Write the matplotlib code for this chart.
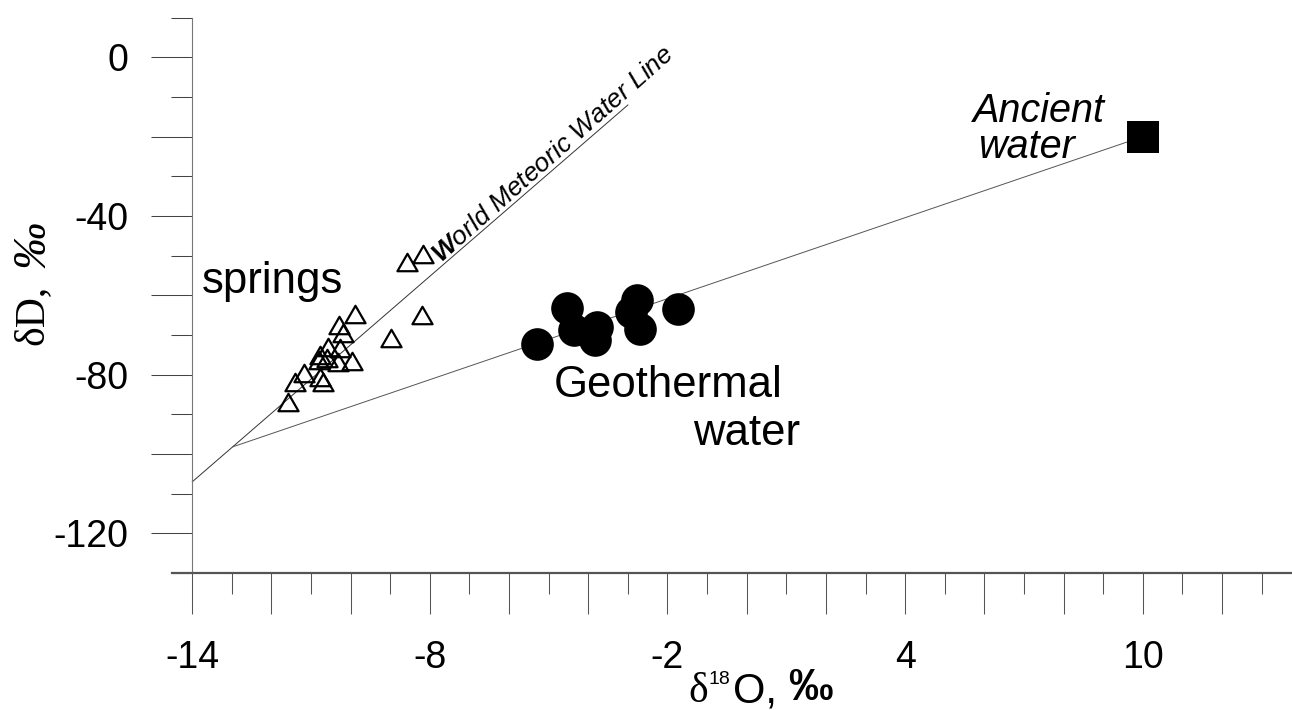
import matplotlib
matplotlib.use('Agg')
import matplotlib.pyplot as plt
import numpy as np
from matplotlib.path import Path
from matplotlib.ticker import FixedLocator, FuncFormatter

# ---------------- data ----------------
spring_d18o = [-8.59, -8.18, -9.89, -8.19, -8.99, -10.29, -10.19, -10.27, -10.57, -10.78,
               -9.97, -10.31, -10.61, -10.79, -11.18, -11.41, -10.78, -10.69, -11.58]
spring_dD = [-51.6, -49.5, -64.6, -65.0, -70.7, -67.5, -69.6, -73.2, -73.0, -75.1,
             -76.5, -76.8, -75.9, -76.4, -79.6, -81.8, -80.6, -81.8, -86.9]
geo_d18o = [-5.30, -4.53, -4.36, -3.79, -3.83, -2.78, -2.93, -2.69, -1.74]
geo_dD = [-72.3, -63.3, -68.8, -68.0, -71.3, -61.2, -64.2, -68.4, -63.5]
ancient_d18o = [10.0]
ancient_dD = [-20.0]
wmwl_d18o = [-14.0, -3.0]
wmwl_dD = [-107.0, -12.0]
mix_d18o = [-12.98, 10.0]
mix_dD = [-98.2, -20.0]
x_tick_labels = [-14, -8, -2, 4, 10]
y_tick_labels = [-120, -80, -40, 0]

# ---------------- style ----------------
plt.rcParams['font.family'] = ['Liberation Sans', 'DejaVu Sans']
plt.rcParams['mathtext.fontset'] = 'custom'
plt.rcParams['mathtext.rm'] = 'Liberation Sans'
plt.rcParams['mathtext.it'] = 'Liberation Sans:italic'
plt.rcParams['mathtext.bf'] = 'Liberation Sans:italic:bold'
plt.rcParams['mathtext.sf'] = 'Liberation Sans'

W, H = 1292, 710
fig = plt.figure(figsize=(W / 100, H / 100), dpi=100)
ax = fig.add_axes([171.7 / W, 1 - 573 / H, (W - 171.7) / W, (573 - 17.7) / H])
ax.set_xlim(-14.52, 13.77)
ax.set_ylim(-130, 10)

for s in ('top', 'right'):
    ax.spines[s].set_visible(False)
ax.spines['left'].set_position(('data', -14))
ax.spines['left'].set_color('#777777')
ax.spines['left'].set_linewidth(0.8)
ax.spines['bottom'].set_color('#555555')
ax.spines['bottom'].set_linewidth(1.6)

ax.xaxis.set_major_locator(FixedLocator(np.arange(-14, 13, 2)))
ax.xaxis.set_minor_locator(FixedLocator(np.arange(-13, 14, 2)))
ax.yaxis.set_major_locator(FixedLocator(np.arange(-120, 1, 20)))
ax.yaxis.set_minor_locator(FixedLocator(np.arange(-130, 11, 20)))
ax.xaxis.set_major_formatter(FuncFormatter(
    lambda v, p: f'{int(round(v))}' if int(round(v)) in x_tick_labels else ''))
ax.yaxis.set_major_formatter(FuncFormatter(
    lambda v, p: f'{int(round(v))}' if int(round(v)) in y_tick_labels else ''))

ax.tick_params(axis='x', which='major', direction='out', length=29.2, width=0.75,
               color='#555555', pad=19, labelsize=27)
ax.tick_params(axis='x', which='minor', direction='out', length=14.8, width=0.75,
               color='#555555')
ax.tick_params(axis='y', which='major', direction='out', length=29.2, width=0.75,
               color='#444444', pad=16.8, labelsize=27)
ax.tick_params(axis='y', which='minor', direction='out', length=14.8, width=0.75,
               color='#444444')

# ---------------- lines ----------------
ax.plot(wmwl_d18o, wmwl_dD, color='#333333', lw=0.7, zorder=2)
ax.plot(mix_d18o, mix_dD, color='#555555', lw=0.7, zorder=2)

# ---------------- markers ----------------
tri = Path([(0, 0.433), (-0.5, -0.433), (0.5, -0.433), (0, 0.433)],
           [Path.MOVETO, Path.LINETO, Path.LINETO, Path.CLOSEPOLY])
ax.plot(spring_d18o, spring_dD, ls='none', marker=tri, ms=14.5, mfc='none',
        mec='black', mew=1.6, zorder=3)
ax.plot(geo_d18o, geo_dD, ls='none', marker='o', ms=23.5, color='black', mew=0, zorder=3)
ax.plot(ancient_d18o, ancient_dD, ls='none', marker='s', ms=23.5, color='black', mew=0,
        zorder=3)

# ---------------- annotations ----------------
ax.text(-13.76, -59.5, 'springs', fontsize=31.5, ha='left', va='baseline')
ax.text(-4.88, -85.6, 'Geothermal', fontsize=31.5, ha='left', va='baseline')
ax.text(-1.35, -97.8, 'water', fontsize=31.5, ha='left', va='baseline')
ax.text(5.72, -16.2, 'Ancient', fontsize=28.5, style='italic', ha='left', va='baseline')
ax.text(5.85, -25.4, 'water', fontsize=28.5, style='italic', ha='left', va='baseline')
ax.text(-7.72, -51.9, r'$\mathbf{W}$orld Meteoric Water Line', fontsize=19,
        style='italic', rotation=41.5, rotation_mode='anchor', ha='left', va='baseline')


def ftext(px, py, s, **kw):
    fig.text(px / W, 1 - py / H, s, **kw)


# y label (pieces, rotated)
ftext(42, 345, 'δD,', family='Liberation Serif', fontsize=30, rotation=90,
      rotation_mode='anchor', ha='left', va='baseline')
ftext(45, 268, '‰', family='Liberation Serif', style='italic', fontsize=34, rotation=90,
      rotation_mode='anchor', ha='left', va='baseline')

# x label (pieces)
ftext(688, 702, 'δ', family='Liberation Serif', fontsize=30, ha='left', va='baseline')
ftext(709, 684, '18', fontsize=14, ha='left', va='baseline')
ftext(733, 702, 'O,', fontsize=30, ha='left', va='baseline')
ftext(788, 700, '‰', fontsize=32, weight='bold', ha='left', va='baseline')

fig.savefig('out.png', dpi=100)
